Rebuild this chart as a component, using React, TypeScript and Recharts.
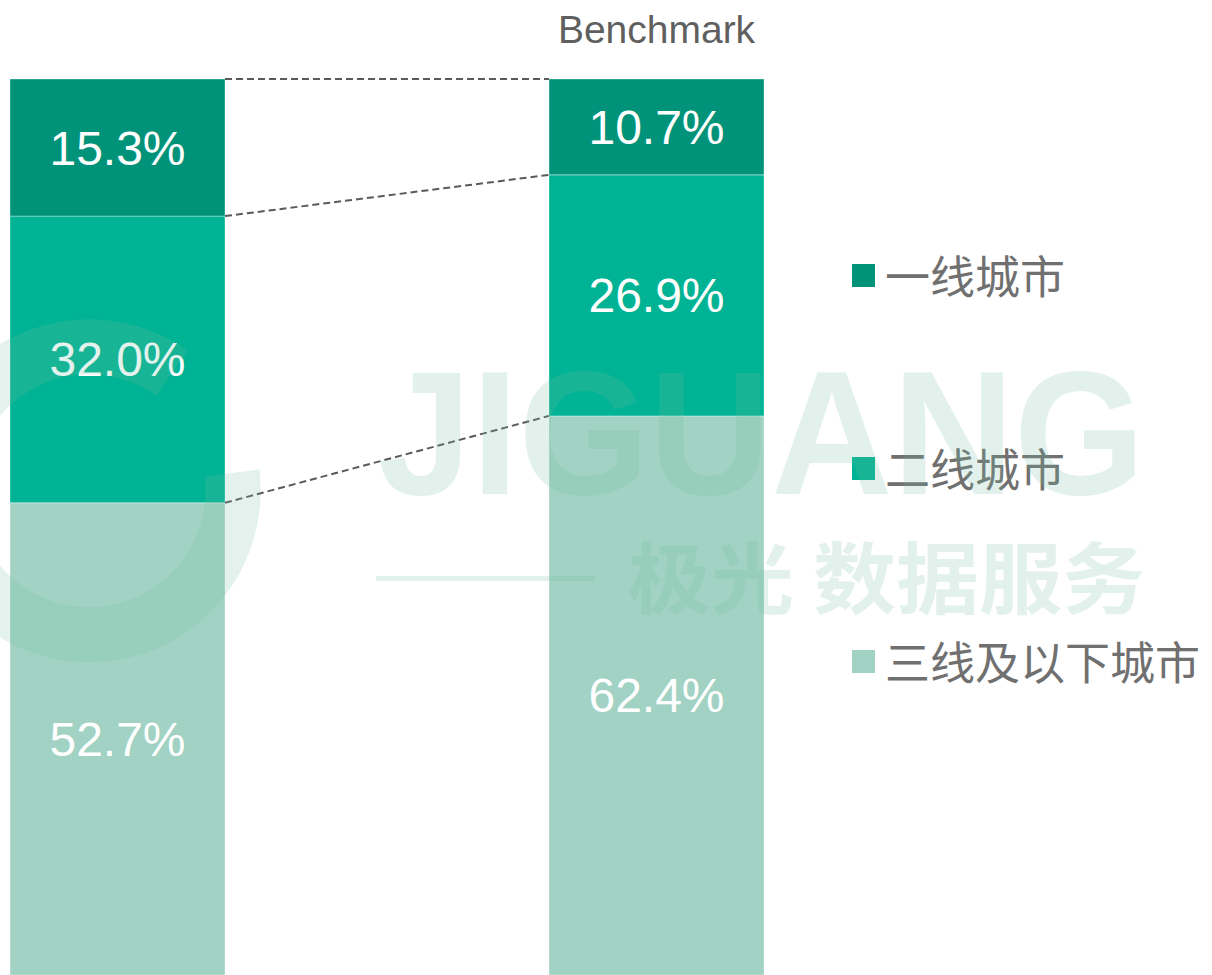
import { BarChart, Bar, XAxis, YAxis, LabelList, ReferenceLine, Legend } from "recharts";

// Share of users by city tier, app vs. benchmark
const CATEGORIES = ["", "Benchmark"];
const TIER1 = [15.3, 10.7];
const TIER2 = [32.0, 26.9];
const TIER3 = [52.7, 62.4];
const SERIES_NAMES = ["一线城市", "二线城市", "三线及以下城市"];
const COLORS = ["#00937A", "#00B394", "#A1D2C3"];

const data = CATEGORIES.map((name, i) => ({
  idx: i,
  name,
  tier1: TIER1[i],
  tier2: TIER2[i],
  tier3: TIER3[i],
}));

const W = 1212;
const H = 975;
const PLOT_TOP = 79;
const AXIS_H = 60;
const BAR_SIZE = 215;
const FIRST_CENTER = 117.5;
const SPACING = 539;
const X_DOMAIN = [-FIRST_CENTER / SPACING, (W - FIRST_CENTER) / SPACING];
const HALF = BAR_SIZE / 2 / SPACING;

// stack boundaries, bottom to top, used by the dashed connectors
const bounds = (i: number) => [TIER3[i], TIER3[i] + TIER2[i], TIER3[i] + TIER2[i] + TIER1[i]];

const LABEL_STYLE = { fill: "#ffffff", fontSize: 48, fontFamily: "'Liberation Sans', Arial, sans-serif" };
const fmt = (v: any) => `${Number(v).toFixed(1)}%`;

// legend top-to-bottom: tier 1, tier 2, tier 3
function LegendBox() {
  return (
    <div style={{ fontFamily: "'Noto Sans CJK SC', sans-serif" }}>
      {SERIES_NAMES.map((name, i) => (
        <div key={name} style={{ display: "flex", alignItems: "center", height: 46, marginBottom: 147 }}>
          <span style={{ width: 23, height: 23, background: COLORS[i], marginRight: 10, flex: "none" }} />
          <span style={{ fontSize: 45, lineHeight: "46px", color: "#707070", whiteSpace: "nowrap" }}>{name}</span>
        </div>
      ))}
    </div>
  );
}

function Watermark() {
  const c = "rgb(115,190,160)";
  return (
    <svg width={W} height={H} style={{ position: "absolute", left: 0, top: 0, pointerEvents: "none" }}>
      <g opacity={0.2} fill={c}>
        <path d="M 232 473 A 144 144 0 1 1 172 373" fill="none" stroke={c} strokeWidth={55} />
        <text
          x={378}
          y={494}
          fontSize={176}
          fontWeight="bold"
          fontFamily="'Liberation Sans', Arial, sans-serif"
          textLength={767}
          lengthAdjust="spacingAndGlyphs"
        >
          JIGUANG
        </text>
        <rect x={376} y={576} width={219} height={5} />
        <text
          x={628}
          y={608}
          fontSize={78}
          fontWeight="bold"
          fontFamily="'Noto Sans CJK SC', sans-serif"
          textLength={517}
          lengthAdjust="spacingAndGlyphs"
        >
          极光 数据服务
        </text>
      </g>
    </svg>
  );
}

export default function App() {
  return (
    <div style={{ position: "absolute", left: 0, top: 0, width: W, height: H, background: "#fff" }}>
      <BarChart
        width={W}
        height={H}
        data={data}
        barSize={BAR_SIZE}
        margin={{ top: PLOT_TOP - AXIS_H, right: 0, bottom: 0, left: 0 }}
      >
        <XAxis
          dataKey="idx"
          type="number"
          orientation="top"
          height={AXIS_H}
          domain={X_DOMAIN}
          allowDataOverflow
          ticks={[0, 1]}
          tickFormatter={(v: number) => CATEGORIES[v] ?? ""}
          axisLine={false}
          tickLine={false}
          tickSize={0}
          tickMargin={36}
          tick={{ fill: "#5f5f5f", fontSize: 39, fontFamily: "'Liberation Sans', Arial, sans-serif" }}
        />
        <YAxis hide domain={[0, 100]} allowDataOverflow />
        <Legend
          layout="horizontal"
          verticalAlign="middle"
          align="center"
          wrapperStyle={{ left: 852, top: 252, width: 360 }}
          content={<LegendBox />}
        />
        <Bar dataKey="tier3" name={SERIES_NAMES[2]} stackId="a" fill={COLORS[2]} stroke="rgba(255,255,255,0.35)" isAnimationActive={false}>
          <LabelList dataKey="tier3" position="center" formatter={fmt} style={LABEL_STYLE} />
        </Bar>
        <Bar dataKey="tier2" name={SERIES_NAMES[1]} stackId="a" fill={COLORS[1]} stroke="rgba(255,255,255,0.35)" isAnimationActive={false}>
          <LabelList dataKey="tier2" position="center" formatter={fmt} style={LABEL_STYLE} />
        </Bar>
        <Bar dataKey="tier1" name={SERIES_NAMES[0]} stackId="a" fill={COLORS[0]} stroke="rgba(255,255,255,0.35)" isAnimationActive={false}>
          <LabelList dataKey="tier1" position="center" formatter={fmt} style={LABEL_STYLE} />
        </Bar>
        {[0, 1, 2].map((k) => (
          <ReferenceLine
            key={k}
            segment={[
              { x: HALF, y: bounds(0)[k] },
              { x: 1 - HALF, y: bounds(1)[k] },
            ]}
            ifOverflow="visible"
            stroke="#5a5a5a"
            strokeWidth={2}
            strokeDasharray="7 4"
          />
        ))}
      </BarChart>
      <Watermark />
    </div>
  );
}
